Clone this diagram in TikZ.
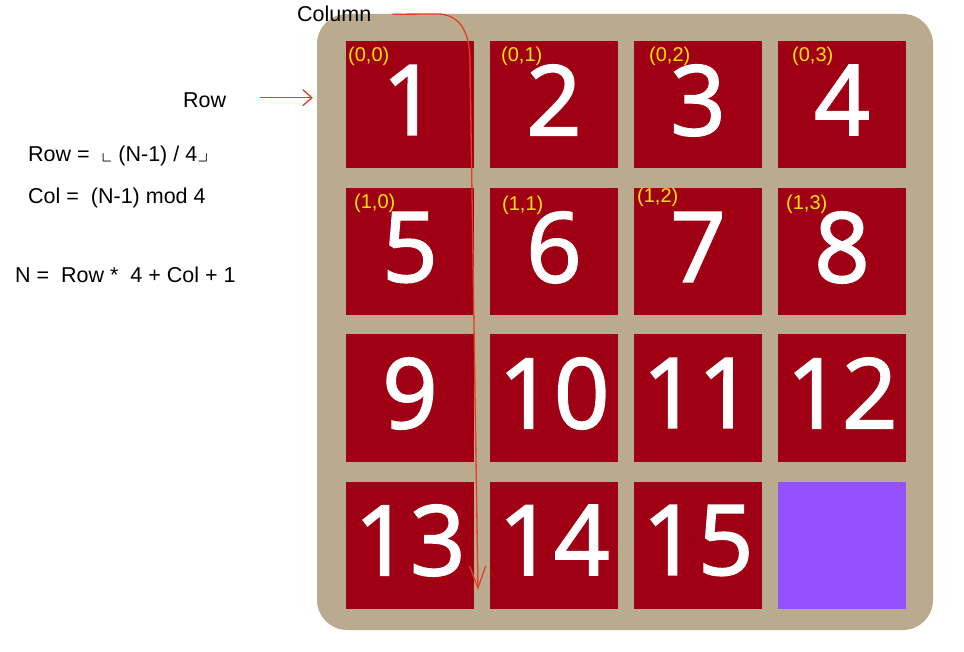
\documentclass[tikz,border=0pt]{standalone}
\usepackage{amssymb}
\usepackage{fontspec}
\setmainfont{Liberation Sans}
\newfontfamily\tilefont[FakeBold=2]{Open Sans}
\usetikzlibrary{arrows.meta}
\definecolor{boardtan}{RGB}{186,171,142}
\definecolor{tilered}{RGB}{160,0,20}
\definecolor{blankpurple}{RGB}{148,82,255}
\definecolor{coordyellow}{RGB}{255,228,0}
\definecolor{penred}{RGB}{232,60,40}

\begin{document}
\begin{tikzpicture}[x=1pt,y=-1pt]
    \useasboundingbox (0,0) rectangle (964,652);
    \node[fill=boardtan,rounded corners=30pt,minimum width=616pt,minimum height=616pt,inner sep=0pt] (board) at (625,322) {};
    \begin{scope}[every node/.style={fill=tilered,text=white,minimum width=128pt,minimum height=127pt,inner sep=0pt,text depth=10pt,font=\tilefont\fontsize{97}{110}\selectfont}]
      \node (t1) at (410,105) {1};
      \node (t2) at (554,105) {2};
      \node (t3) at (698,105) {3};
      \node (t4) at (842,105) {4};
      \node (t5) at (410,252) {5};
      \node (t6) at (554,252) {6};
      \node (t7) at (698,252) {7};
      \node (t8) at (842,252) {8};
      \node (t9) at (410,398) {9};
      \node (t10) at (554,398) {10};
      \node (t11) at (698,398) {11};
      \node (t12) at (842,398) {12};
      \node (t13) at (410,545) {13};
      \node (t14) at (554,545) {14};
      \node (t15) at (698,545) {15};
      \node[fill=blankpurple] (t16) at (842,545) {};
    \end{scope}
    \begin{scope}[every node/.style={text=coordyellow,anchor=base west,inner sep=0pt,font=\fontsize{20}{24}\selectfont}]
      \node (p00) at (348,62) {(0,0)};
      \node (p01) at (501,62) {(0,1)};
      \node (p02) at (649,62) {(0,2)};
      \node (p03) at (792,62) {(0,3)};
      \node (p10) at (354,209) {(1,0)};
      \node (p11) at (502,211) {(1,1)};
      \node (p12) at (637,203) {(1,2)};
      \node (p13) at (786,210) {(1,3)};
    \end{scope}
    \begin{scope}[every node/.style={anchor=base west,inner sep=0pt,font=\fontsize{21.5}{25}\selectfont}]
      \node (collbl) at (297,22) {Column};
      \node (rowlbl) at (183,108) {Row};
      \node (rowform) at (28,162) {Row =\ \ $\llcorner$ (N-1) / 4$\lrcorner$};
      \node (colform) at (28,204) {Col =\ \ (N-1) mod 4};
      \node (nform) at (15,283) {N =\ \ Row *\ \ 4 + Col + 1};
    \end{scope}
    \begin{scope}[draw=penred,line width=1.3pt]
      \coordinate (colend) at (478,590);
      \draw[-{Straight Barb[length=9pt,width=16pt]},shorten <=34pt,shorten >=4pt] ([yshift=3pt]rowlbl.east) -- ([yshift=3pt]board.west |- rowlbl.east);
      \draw[-{Straight Barb[length=22pt,width=16pt]},shorten <=21pt] (collbl.east) -- (440,14) .. controls (462,16) and (470,35) .. (470,62) -- (colend);
    \end{scope}
  \end{tikzpicture}
\end{document}
